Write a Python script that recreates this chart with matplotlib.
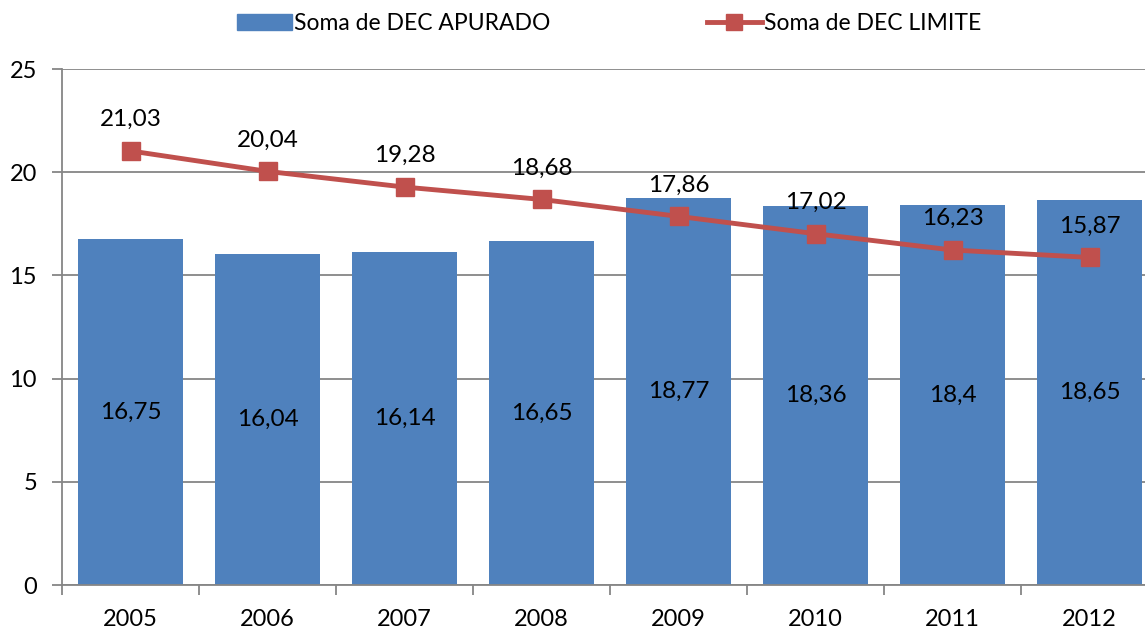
import numpy as np
import matplotlib.pyplot as plt
from matplotlib.lines import Line2D
from matplotlib.patches import Patch

anos = ["2005", "2006", "2007", "2008", "2009", "2010", "2011", "2012"]
dec_apurado = [16.75, 16.04, 16.14, 16.65, 18.77, 18.36, 18.4, 18.65]
dec_limite = [21.03, 20.04, 19.28, 18.68, 17.86, 17.02, 16.23, 15.87]

azul = "#4F81BD"
vermelho = "#C0504D"
cinza = "#868686"

plt.rcParams["font.family"] = ["Lato", "DejaVu Sans"]

fig = plt.figure(figsize=(11.45, 6.3), dpi=100)
# plot area runs past the right edge, like the original
ax = fig.add_axes([62 / 1145, 45 / 630, 1096 / 1145, 516 / 630])

x = np.arange(len(anos))
ax.bar(x, dec_apurado, width=0.77, color=azul, zorder=2)
ax.plot(x, dec_limite, color=vermelho, lw=3.5, marker="s", ms=13,
        mec=vermelho, mfc=vermelho, zorder=3)

def fmt(v):
    return (f"{v:.2f}".rstrip("0").rstrip(".")).replace(".", ",")

for xi, v in zip(x, dec_apurado):
    ax.text(xi, v / 2, fmt(v), ha="center", va="center", fontsize=17.5, color="black")
for xi, v in zip(x, dec_limite):
    ax.annotate(fmt(v), (xi, v), xytext=(0, 15), textcoords="offset points",
                ha="center", va="bottom", fontsize=17.5, color="black")

ax.set_xlim(-0.5, len(anos) - 0.5)
ax.set_ylim(0, 25)
ax.set_yticks([0, 5, 10, 15, 20, 25])
ax.yaxis.grid(True, color=cinza, lw=1.3, zorder=0)
ax.set_axisbelow(True)

ax.set_xticks(x)
ax.set_xticklabels(anos, fontsize=17)
ax.set_xticks(np.arange(-0.5, len(anos)), minor=True)
ax.tick_params(axis="x", which="major", length=0, pad=17)
ax.tick_params(axis="x", which="minor", length=7, width=1.3, color=cinza)
ax.tick_params(axis="y", length=7, width=1.3, color=cinza, labelsize=17, pad=11)

for s in ["top", "right"]:
    ax.spines[s].set_visible(False)
for s in ["left", "bottom"]:
    ax.spines[s].set_color(cinza)
    ax.spines[s].set_linewidth(1.3)

handles = [Patch(color=azul),
           Line2D([0], [0], color=vermelho, lw=3.5, marker="s", ms=12)]
fig.legend(handles, ["Soma de DEC APURADO", "Soma de DEC LIMITE"],
           loc="center", bbox_to_anchor=(0.532, 0.962), ncol=2, frameon=False,
           fontsize=16.5, handlelength=2.4, handletextpad=0.12, columnspacing=6.8)

fig.savefig("out.png", dpi=100)
